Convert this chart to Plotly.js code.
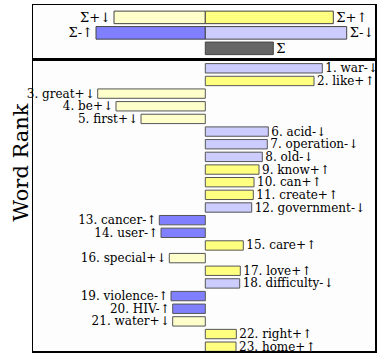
<!DOCTYPE html>
<html>
<head>
<meta charset="utf-8">
<script src="https://cdn.plot.ly/plotly-3.0.1.min.js"></script>
<style>
  body { margin: 0; background: #fff; }
  #plot { width: 381px; height: 354px; }
</style>
</head>
<body>
<div id="plot"></div>
<script>
// Word shift data
var words = ["war", "like", "great", "be", "first", "acid", "operation", "old",
             "know", "can", "create", "government", "cancer", "user", "care",
             "special", "love", "difficulty", "violence", "HIV", "water",
             "right", "home"];
var signs = ["-", "+", "+", "+", "+", "-", "-", "-", "+", "+", "+", "-", "-",
             "-", "+", "+", "+", "-", "-", "-", "+", "+", "+"];
var arrows = ["↓", "↑", "↓", "↓", "↓", "↓", "↓", "↓", "↑", "↑", "↑", "↓", "↑",
              "↑", "↑", "↓", "↑", "↓", "↑", "↑", "↓", "↑", "↑"];
var shifts = [1.17, 1.087, -1.076, -0.893, -0.643, 0.63, 0.62, 0.57, 0.537,
              0.487, 0.48, 0.464, -0.46, -0.443, 0.38, -0.36, 0.35, 0.344,
              -0.343, -0.326, -0.326, 0.31, 0.307];

// Summary bars at the top
var sum_labels = ["Σ+↓", "Σ+↑", "Σ-↑", "Σ-↓", "Σ"];
var sum_rows   = [1, 1, 2, 2, 3];
var sum_values = [-0.913, 1.28, -1.093, 1.414, 0.68];

var colors = {
    "+↑": "#ffff80",
    "+↓": "#ffffcc",
    "-↑": "#8080ff",
    "-↓": "#ccccff",
    "Σ":  "#666666"
};

function word_color(i) {
    return colors[signs[i] + arrows[i]];
}

function sum_color(label) {
    if (label == "Σ") return colors["Σ"];
    return colors[label.slice(1)];
}

var ranks = [], labels = [], bar_colors = [];
for (var i = 0; i < words.length; i++) {
    ranks.push(i + 1);
    labels.push((i + 1) + ". " + words[i] + signs[i] + arrows[i]);
    bar_colors.push(word_color(i));
}

var sum_colors = [];
for (var i = 0; i < sum_labels.length; i++) {
    sum_colors.push(sum_color(sum_labels[i]));
}

var text_font = {family: "DejaVu Serif", size: 12, color: "#000"};

var data = [{
    type: "bar",
    orientation: "h",
    x: shifts,
    y: ranks,
    text: labels,
    textposition: "outside",
    constraintext: "none",
    cliponaxis: false,
    textfont: text_font,
    width: 0.74,
    marker: {color: bar_colors, line: {color: "#555", width: 1}},
    hoverinfo: "none",
    xaxis: "x",
    yaxis: "y"
}, {
    type: "bar",
    orientation: "h",
    x: sum_values,
    y: sum_rows,
    text: sum_labels,
    textposition: "outside",
    constraintext: "none",
    cliponaxis: false,
    textfont: {family: "DejaVu Serif", size: 13, color: "#000"},
    width: 0.81,
    marker: {color: sum_colors, line: {color: "#444", width: 1}},
    hoverinfo: "none",
    xaxis: "x2",
    yaxis: "y2"
}];

var frame = {
    showline: true, mirror: true, linecolor: "#000", linewidth: 1.5,
    showgrid: false, zeroline: false, showticklabels: false, ticks: ""
};

var layout = {
    width: 381,
    height: 354,
    margin: {l: 33, r: 6, t: 4.5, b: 3},
    paper_bgcolor: "#fff",
    plot_bgcolor: "#fdfdfd",
    showlegend: false,
    barmode: "overlay",
    xaxis: Object.assign({range: [-1.723, 1.697], anchor: "y"}, frame),
    xaxis2: Object.assign({range: [-1.723, 1.697], anchor: "y2", matches: "x"}, frame),
    yaxis: Object.assign({range: [23.34, 0.29], domain: [0, 0.843], anchor: "x"}, frame),
    yaxis2: Object.assign({range: [3.71, 0.2], domain: [0.843, 1], anchor: "x2"}, frame),
    annotations: [{
        text: "Word Rank",
        textangle: -90,
        xref: "paper", yref: "paper",
        x: -0.035, y: 0.545,
        xanchor: "center", yanchor: "middle",
        showarrow: false,
        font: {family: "DejaVu Serif", size: 21, color: "#000"}
    }]
};

Plotly.newPlot("plot", data, layout, {staticPlot: true});
</script>
</body>
</html>
